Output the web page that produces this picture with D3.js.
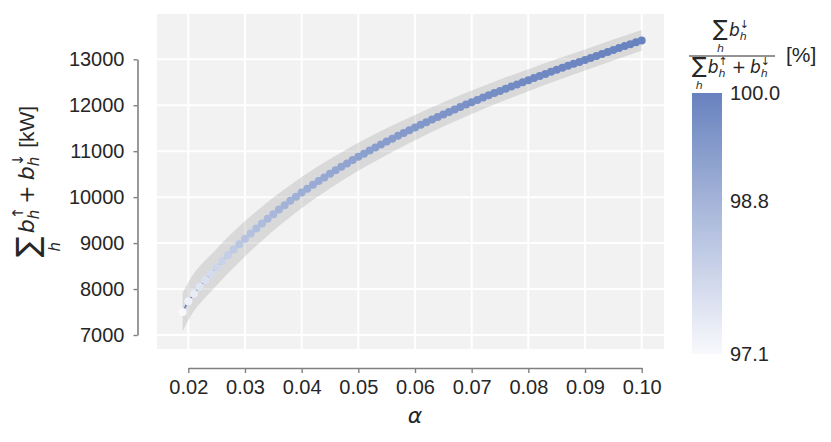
<!DOCTYPE html>
<html><head><meta charset="utf-8">
<script src="https://cdn.jsdelivr.net/npm/d3@7"></script>
<style>
html,body{margin:0;padding:0;background:#fff;}
svg{display:block;}
</style></head>
<body>
<svg id="chart" width="831" height="442"></svg>
<script>
// ---------------- data ----------------
const alphaValues = [0.019,0.020,0.021,0.022,0.023,0.024,0.025,0.026,0.027,0.028,0.029,0.030,
  0.031,0.032,0.033,0.034,0.035,0.036,0.037,0.038,0.039,0.040,
  0.041,0.042,0.043,0.044,0.045,0.046,0.047,0.048,0.049,0.050,
  0.051,0.052,0.053,0.054,0.055,0.056,0.057,0.058,0.059,0.060,
  0.061,0.062,0.063,0.064,0.065,0.066,0.067,0.068,0.069,0.070,
  0.071,0.072,0.073,0.074,0.075,0.076,0.077,0.078,0.079,0.080,
  0.081,0.082,0.083,0.084,0.085,0.086,0.087,0.088,0.089,0.090,
  0.091,0.092,0.093,0.094,0.095,0.096,0.097,0.098,0.099,0.100];
const powerKW = [7500,7734,7895,8049,8197,8339,8476,8608,8735,8858,8977,9094,
  9208,9318,9425,9529,9630,9729,9825,9919,10011,10100,
  10185,10269,10350,10430,10508,10585,10660,10734,10806,10878,
  10947,11014,11081,11146,11210,11273,11335,11396,11456,11515,
  11574,11632,11689,11745,11800,11855,11909,11962,12014,12065,
  12116,12166,12215,12264,12312,12360,12407,12453,12499,12545,
  12591,12637,12682,12727,12771,12815,12858,12901,12943,12985,
  13030,13074,13117,13160,13203,13245,13287,13328,13369,13410];
const downSharePct = [97.10,97.30,97.45,97.59,97.71,97.84,97.94,98.06,98.14,98.26,98.35,98.43,
  98.49,98.55,98.61,98.67,98.72,98.77,98.81,98.84,98.88,98.93,
  98.96,98.99,99.02,99.05,99.09,99.12,99.15,99.18,99.21,99.25,
  99.27,99.29,99.31,99.33,99.35,99.37,99.39,99.41,99.43,99.45,
  99.47,99.49,99.51,99.53,99.55,99.57,99.59,99.61,99.63,99.65,
  99.67,99.69,99.70,99.72,99.74,99.76,99.77,99.79,99.81,99.83,
  99.83,99.84,99.85,99.86,99.87,99.88,99.89,99.90,99.90,99.91,
  99.92,99.93,99.94,99.95,99.96,99.97,99.97,99.98,99.99,100.00];
const bandAlpha = [0.019,0.020,0.025,0.030,0.035,0.040,0.045,0.050,0.055,0.060,0.065,0.070,0.075,0.080,0.085,0.090,0.095,0.100];
const bandLow  = [7080,7319,8076,8709,9270,9760,10188,10573,10920,11240,11535,11810,12064,12305,12536,12755,12975,13185];
const bandHigh = [7920,8149,8876,9479,9990,10440,10828,11183,11500,11790,12065,12320,12560,12785,13006,13215,13431,13635];
const xTicks = [0.02,0.03,0.04,0.05,0.06,0.07,0.08,0.09,0.10];
const yTicks = [7000,8000,9000,10000,11000,12000,13000];
const cbarTicks = [97.1,98.8,100.0];
const cbarDomain = [97.1,100.0];

// ---------------- setup ----------------
const SANS = "'Liberation Sans', Arial, sans-serif";
const MATH = "'DejaVu Sans', sans-serif";
const TXT = "#262626";
const SPINE = "#808080";
const svg = d3.select("#chart");
const plot = {left:157, right:664, top:14, bottom:349};
const x = d3.scaleLinear().domain([0.02,0.10]).range([188.3,641.7]);
const y = d3.scaleLinear().domain([7000,13000]).range([335,59.3]);
const color = d3.scaleLinear().domain(cbarDomain).range(["#f8f9fc","#6882bf"]).interpolate(d3.interpolateRgb);

svg.append("rect").attr("x",plot.left).attr("y",plot.top)
  .attr("width",plot.right-plot.left).attr("height",plot.bottom-plot.top).attr("fill","#f2f2f2");

const grid = svg.append("g");
grid.selectAll("line.vx").data(xTicks).join("line").attr("class","vx")
  .attr("x1",d=>x(d)).attr("x2",d=>x(d)).attr("y1",plot.top).attr("y2",plot.bottom)
  .attr("stroke","#fff").attr("stroke-width",2);
grid.selectAll("line.hy").data(yTicks).join("line").attr("class","hy")
  .attr("y1",d=>y(d)).attr("y2",d=>y(d)).attr("x1",plot.left).attr("x2",plot.right)
  .attr("stroke","#fff").attr("stroke-width",2);

const bandData = bandAlpha.map((a,i)=>({a, lo:bandLow[i], hi:bandHigh[i]}));
svg.append("path").datum(bandData)
  .attr("d", d3.area().x(d=>x(d.a)).y0(d=>y(d.lo)).y1(d=>y(d.hi)).curve(d3.curveMonotoneX))
  .attr("fill","#a0a0a0").attr("fill-opacity",0.3);

const pts = alphaValues.map((a,i)=>({a, p:powerKW[i], r:downSharePct[i]}));
svg.append("path").datum(pts)
  .attr("d", d3.line().x(d=>x(d.a)).y(d=>y(d.p)))
  .attr("fill","none").attr("stroke","#5b7cc0").attr("stroke-width",1.5);
svg.append("g").selectAll("circle").data(pts).join("circle")
  .attr("cx",d=>x(d.a)).attr("cy",d=>y(d.p)).attr("r",4)
  .attr("fill",d=>color(d.r));

// axes
function styleAxis(g){
  g.attr("font-family",SANS).attr("font-size",20);
  g.select(".domain").attr("stroke",SPINE).attr("stroke-width",1.6);
  g.selectAll(".tick line").attr("stroke",SPINE).attr("stroke-width",1.4);
  g.selectAll(".tick text").attr("fill",TXT);
}
svg.append("g").attr("transform","translate(0,368)")
  .call(d3.axisBottom(x).tickValues(xTicks).tickFormat(d3.format(".2f")).tickSize(5).tickSizeOuter(0).tickPadding(7))
  .call(styleAxis);
svg.append("g").attr("transform","translate(137.5,0)")
  .call(d3.axisLeft(y).tickValues(yTicks).tickFormat(d3.format("d")).tickSize(4).tickSizeOuter(0).tickPadding(9))
  .call(styleAxis);

// math text helper
function mathRow(g, pieces){
  let cursor = 0, last = null;
  pieces.forEach(p=>{
    if (p.gap!==undefined){ cursor += p.gap; return; }
    const t = g.append("text").text(p.t)
      .attr("font-size",p.size).attr("font-family",p.family||MATH)
      .attr("font-style",p.italic?"italic":"normal").attr("fill",TXT)
      .attr("y",p.shift||0).style("white-space","pre");
    const w = t.node().getComputedTextLength();
    if (p.under){ t.attr("x", last.x + last.w/2 - w/2); }
    else if (p.stack){ t.attr("x", last.x); cursor = Math.max(cursor, last.x + w); }
    else { t.attr("x", cursor); last = {x:cursor, w}; cursor += w; }
  });
  return g;
}

// x label
svg.append("text").attr("x",415).attr("y",423).attr("text-anchor","middle")
  .attr("font-family",MATH).attr("font-style","italic").attr("font-size",22).attr("fill",TXT).text("α");

// y label
const yl = svg.append("g");
const ylIn = yl.append("g");
mathRow(ylIn, [
  {t:"∑", size:31, shift:4},
  {t:"h", size:15, italic:true, under:true, shift:26},
  {gap:3},
  {t:"b", size:22, italic:true},
  {t:"h", size:15, italic:true, shift:5},
  {t:"↑", size:15, stack:true, shift:-11},
  {gap:3},
  {t:"+", size:22},
  {gap:5},
  {t:"b", size:22, italic:true},
  {t:"h", size:15, italic:true, shift:5},
  {t:"↓", size:15, stack:true, shift:-11},
  {gap:6},
  {t:"[kW]", size:21, family:SANS}
]);
{
  const bb = ylIn.node().getBBox();
  ylIn.attr("transform",`translate(${-bb.x-bb.width/2},0)`);
  yl.attr("transform","translate(34,181.5) rotate(-90)");
}

// colorbar
const cb = {x:692, w:30, top:93, bottom:354};
const cy = d3.scaleLinear().domain(cbarDomain).range([cb.bottom, cb.top]);
const defs = svg.append("defs");
const grad = defs.append("linearGradient").attr("id","cbgrad")
  .attr("x1",0).attr("y1",1).attr("x2",0).attr("y2",0);
d3.range(0,1.0001,0.1).forEach(f=>{
  const v = cbarDomain[0] + f*(cbarDomain[1]-cbarDomain[0]);
  grad.append("stop").attr("offset",f).attr("stop-color",color(v));
});
svg.append("rect").attr("x",cb.x).attr("y",cb.top).attr("width",cb.w).attr("height",cb.bottom-cb.top)
  .attr("fill","url(#cbgrad)");
svg.append("g").selectAll("text").data(cbarTicks).join("text")
  .attr("x",cb.x+cb.w+8).attr("y",d=>cy(d)).attr("dy","0.36em")
  .attr("font-family",SANS).attr("font-size",20).attr("fill",TXT)
  .text(d=>d3.format(".1f")(d));

// colorbar label (fraction)
const num = svg.append("g");
const numIn = num.append("g");
mathRow(numIn, [
  {t:"∑", size:22, shift:0},
  {t:"h", size:11, italic:true, under:true, shift:16},
  {gap:1},
  {t:"b", size:17, italic:true},
  {t:"h", size:11, italic:true, shift:4},
  {t:"↓", size:11, stack:true, shift:-8}
]);
const den = svg.append("g");
const denIn = den.append("g");
mathRow(denIn, [
  {t:"∑", size:22, shift:0},
  {t:"h", size:11, italic:true, under:true, shift:16},
  {gap:1},
  {t:"b", size:17, italic:true},
  {t:"h", size:11, italic:true, shift:4},
  {t:"↑", size:11, stack:true, shift:-8},
  {gap:4},
  {t:"+", size:17},
  {gap:4},
  {t:"b", size:17, italic:true},
  {t:"h", size:11, italic:true, shift:4},
  {t:"↓", size:11, stack:true, shift:-8}
]);
{
  const cxm = 731;
  let bb = numIn.node().getBBox();
  num.attr("transform",`translate(${cxm-bb.x-bb.width/2},36)`);
  bb = denIn.node().getBBox();
  den.attr("transform",`translate(${cxm-bb.x-bb.width/2},73)`);
}
svg.append("line").attr("x1",689).attr("x2",775).attr("y1",56).attr("y2",56)
  .attr("stroke",TXT).attr("stroke-width",1);
svg.append("text").attr("x",786).attr("y",62).attr("font-family",SANS).attr("font-size",21)
  .attr("fill",TXT).text("[%]");
</script>
</body></html>
